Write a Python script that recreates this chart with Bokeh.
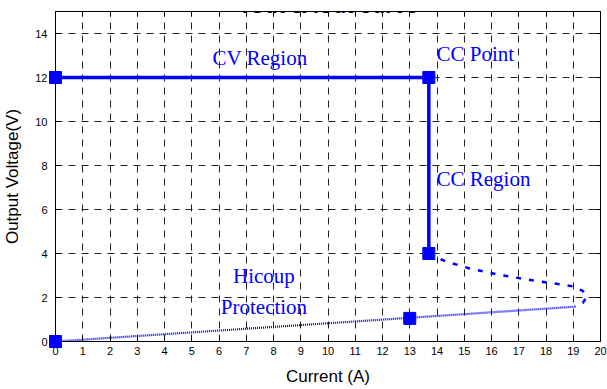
from bokeh.plotting import figure
from bokeh.models import Range1d, LinearAxis, FixedTicker, Label
from bokeh.embed import file_html
from bokeh.resources import INLINE

# ---- data ----
title_text = "Vout & Iout curve"
x_label = "Current (A)"
y_label = "Output Voltage(V)"
x_ticks = list(range(0, 21))
y_ticks = list(range(0, 15, 2))

cv_x = [0, 13.7]
cv_y = [12, 12]
cc_x = [13.7, 13.7]
cc_y = [12, 4]
fold_x = [13.7, 14.3, 15.2, 16.2, 17.5, 18.5, 19.0, 19.35, 19.5, 19.35, 19.05]
fold_y = [4.0, 3.65, 3.32, 3.05, 2.78, 2.6, 2.5, 2.3, 2.05, 1.75, 1.58]
hic_x = [0, 19.05]
hic_y = [0, 1.58]
pts_x = [0, 13.7, 13.7, 13, 0]
pts_y = [12, 12, 4, 1.05, 0]

BLUE = "#0000FF"
SERIF = "Liberation Serif"
SANS = "Liberation Sans"

p = figure(width=607, height=389, x_range=Range1d(0, 20), y_range=Range1d(0, 15),
           output_backend="svg", toolbar_location=None,
           min_border_left=55, min_border_right=7, min_border_top=11, min_border_bottom=48)
p.background_fill_color = "white"
p.border_fill_color = "white"
p.outline_line_color = "black"
p.outline_line_width = 1

# grids
p.xgrid.ticker = FixedTicker(ticks=x_ticks)
p.ygrid.ticker = FixedTicker(ticks=y_ticks)
for g in (p.xgrid, p.ygrid):
    g.grid_line_color = "#222222"
    g.grid_line_dash = "7 6"
    g.grid_line_width = 1

def style_axis(ax, ticks, show_labels=True):
    ax.ticker = FixedTicker(ticks=ticks)
    ax.axis_line_color = "black"
    ax.major_tick_line_color = "black"
    ax.major_tick_in = 5
    ax.major_tick_out = 0
    ax.minor_tick_line_color = None
    ax.major_label_text_font = SANS
    ax.major_label_text_font_size = "11px"
    ax.major_label_text_color = "black"
    ax.axis_label_text_font = SANS
    ax.axis_label_text_font_size = "17px"
    ax.axis_label_text_font_style = "normal"
    ax.axis_label_text_color = "black"
    if not show_labels:
        ax.major_label_text_color = None
        ax.major_label_text_alpha = 0
        ax.major_label_standoff = 0

style_axis(p.xaxis[0], x_ticks)
style_axis(p.yaxis[0], y_ticks)
p.xaxis[0].axis_label = x_label
p.yaxis[0].axis_label = y_label
p.xaxis[0].major_label_standoff = 5
p.xaxis[0].axis_label_standoff = 9
p.yaxis[0].major_label_standoff = 8
p.yaxis[0].axis_label_standoff = 10

top_ax = LinearAxis()
style_axis(top_ax, x_ticks, show_labels=False)
p.add_layout(top_ax, "above")
right_ax = LinearAxis()
style_axis(right_ax, y_ticks, show_labels=False)
p.add_layout(right_ax, "right")

# curves
p.line(hic_x, hic_y, line_color=BLUE, line_width=2.2, line_dash="1 1")
p.line(fold_x, fold_y, line_color=BLUE, line_width=2.5, line_dash="5 8")
p.line(cv_x, cv_y, line_color=BLUE, line_width=3.5)
p.line(cc_x, cc_y, line_color=BLUE, line_width=3.5)
p.scatter(pts_x, pts_y, marker="square", size=12, fill_color=BLUE, line_color=BLUE,
          level="overlay")

# annotations
def ann(x, y, t, align="left"):
    p.add_layout(Label(x=x, y=y, text=t, text_font=SERIF, text_font_size="21px",
                       text_color=BLUE, text_align=align, text_baseline="alphabetic"))

ann(5.76, 12.87, "CV Region")
ann(13.98, 13.05, "CC Point")
ann(13.98, 7.37, "CC Region")
ann(7.65, 2.96, "Hicoup", "center")
ann(7.65, 1.59, "Protection", "center")

p.add_layout(Label(x=10, y=15.27, text=title_text, text_font=SANS, text_font_size="22px",
                   text_font_style="bold", text_color="black", text_align="center",
                   text_baseline="alphabetic"))

open("out.html", "w").write(file_html(p, INLINE))
